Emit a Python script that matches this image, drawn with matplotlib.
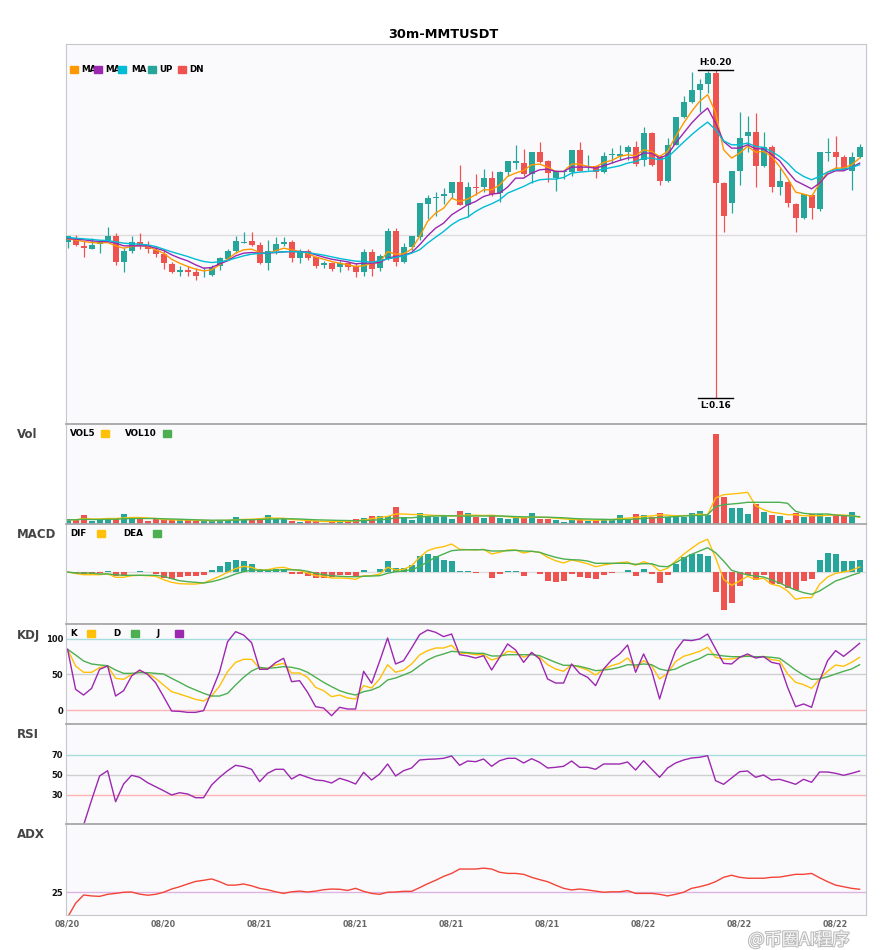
import matplotlib
matplotlib.use('Agg')
import matplotlib.pyplot as plt
import matplotlib.patheffects as pe
from matplotlib.patches import Rectangle
import numpy as np

# 30m candles
opens = [0.1791, 0.1796, 0.1786, 0.1783, 0.1789, 0.1793, 0.1798, 0.1767, 0.1780, 0.1791,
         0.1787, 0.1781, 0.1777, 0.1764, 0.1755, 0.1757, 0.1755, 0.1749, 0.1751, 0.1762,
         0.1770, 0.1780, 0.1790, 0.1793, 0.1788, 0.1766, 0.1780, 0.1789, 0.1791, 0.1771,
         0.1780, 0.1773, 0.1763, 0.1766, 0.1760, 0.1766, 0.1762, 0.1755, 0.1779, 0.1759,
         0.1771, 0.1805, 0.1767, 0.1785, 0.1797, 0.1838, 0.1845, 0.1847, 0.1851, 0.1865,
         0.1837, 0.1859, 0.1859, 0.1870, 0.1851, 0.1877, 0.1888, 0.1888, 0.1875, 0.1902,
         0.1891, 0.1870, 0.1877, 0.1877, 0.1904, 0.1883, 0.1885, 0.1877, 0.1898, 0.1897,
         0.1901, 0.1908, 0.1892, 0.1925, 0.1897, 0.1866, 0.1910, 0.1944, 0.1963, 0.1978,
         0.1985, 0.1998, 0.1864, 0.1839, 0.1878, 0.1921, 0.1926, 0.1884, 0.1908, 0.1859,
         0.1865, 0.1838, 0.1821, 0.1849, 0.1832, 0.1900, 0.1901, 0.1896, 0.1878, 0.1895]
highs = [0.1799, 0.1800, 0.1792, 0.1796, 0.1793, 0.1809, 0.1802, 0.1784, 0.1798, 0.1802,
         0.1792, 0.1786, 0.1782, 0.1767, 0.1762, 0.1762, 0.1759, 0.1761, 0.1763, 0.1773,
         0.1782, 0.1798, 0.1804, 0.1804, 0.1791, 0.1794, 0.1797, 0.1797, 0.1794, 0.1782,
         0.1782, 0.1774, 0.1768, 0.1767, 0.1768, 0.1767, 0.1765, 0.1782, 0.1782, 0.1776,
         0.1808, 0.1808, 0.1790, 0.1798, 0.1839, 0.1849, 0.1852, 0.1857, 0.1865, 0.1886,
         0.1865, 0.1874, 0.1881, 0.1878, 0.1878, 0.1890, 0.1910, 0.1905, 0.1901, 0.1914,
         0.1892, 0.1880, 0.1880, 0.1904, 0.1914, 0.1898, 0.1886, 0.1901, 0.1906, 0.1910,
         0.1910, 0.1915, 0.1932, 0.1926, 0.1898, 0.1919, 0.1945, 0.1970, 0.2000, 0.1991,
         0.2001, 0.2002, 0.1865, 0.1878, 0.1951, 0.1946, 0.1949, 0.1926, 0.1910, 0.1882,
         0.1866, 0.1839, 0.1850, 0.1850, 0.1901, 0.1919, 0.1921, 0.1898, 0.1902, 0.1911]
lows = [0.1784, 0.1786, 0.1773, 0.1782, 0.1778, 0.1793, 0.1763, 0.1755, 0.1778, 0.1782,
        0.1778, 0.1773, 0.1758, 0.1753, 0.1750, 0.1750, 0.1744, 0.1748, 0.1750, 0.1757,
        0.1769, 0.1778, 0.1790, 0.1786, 0.1764, 0.1757, 0.1776, 0.1786, 0.1767, 0.1765,
        0.1769, 0.1759, 0.1759, 0.1756, 0.1755, 0.1757, 0.1748, 0.1749, 0.1749, 0.1756,
        0.1769, 0.1762, 0.1766, 0.1781, 0.1794, 0.1819, 0.1823, 0.1838, 0.1845, 0.1836,
        0.1822, 0.1849, 0.1853, 0.1848, 0.1840, 0.1872, 0.1881, 0.1872, 0.1864, 0.1888,
        0.1865, 0.1854, 0.1868, 0.1872, 0.1878, 0.1879, 0.1870, 0.1876, 0.1888, 0.1892,
        0.1892, 0.1884, 0.1884, 0.1885, 0.1861, 0.1865, 0.1910, 0.1943, 0.1962, 0.1951,
        0.1974, 0.1600, 0.1803, 0.1827, 0.1861, 0.1902, 0.1859, 0.1883, 0.1852, 0.1849,
        0.1834, 0.1803, 0.1820, 0.1820, 0.1829, 0.1890, 0.1880, 0.1879, 0.1855, 0.1894]
closes = [0.1798, 0.1787, 0.1784, 0.1787, 0.1793, 0.1798, 0.1767, 0.1780, 0.1791, 0.1786,
          0.1782, 0.1776, 0.1766, 0.1755, 0.1757, 0.1755, 0.1750, 0.1750, 0.1759, 0.1771,
          0.1780, 0.1793, 0.1791, 0.1787, 0.1766, 0.1780, 0.1789, 0.1791, 0.1771, 0.1780,
          0.1771, 0.1762, 0.1766, 0.1758, 0.1766, 0.1761, 0.1754, 0.1779, 0.1758, 0.1774,
          0.1805, 0.1767, 0.1785, 0.1798, 0.1839, 0.1845, 0.1846, 0.1850, 0.1865, 0.1837,
          0.1859, 0.1857, 0.1870, 0.1850, 0.1877, 0.1890, 0.1890, 0.1874, 0.1901, 0.1889,
          0.1876, 0.1878, 0.1878, 0.1904, 0.1878, 0.1885, 0.1877, 0.1897, 0.1899, 0.1899,
          0.1908, 0.1887, 0.1925, 0.1886, 0.1866, 0.1910, 0.1944, 0.1963, 0.1977, 0.1985,
          0.1998, 0.1863, 0.1823, 0.1878, 0.1919, 0.1926, 0.1884, 0.1908, 0.1859, 0.1866,
          0.1839, 0.1821, 0.1850, 0.1833, 0.1901, 0.1901, 0.1896, 0.1880, 0.1896, 0.1908]

ma5 = [0.17947, 0.17939, 0.17918, 0.17906, 0.17898, 0.17906, 0.17865, 0.17836, 0.17857, 0.17869,
       0.17857, 0.17816, 0.17775, 0.17701, 0.17652, 0.17612, 0.17579, 0.17558, 0.17570, 0.17632,
       0.17701, 0.17775, 0.17816, 0.17824, 0.17783, 0.17775, 0.17804, 0.17836, 0.17816, 0.17795,
       0.17775, 0.17726, 0.17701, 0.17673, 0.17652, 0.17632, 0.17612, 0.17620, 0.17652, 0.17660,
       0.17795, 0.17763, 0.17767, 0.17824, 0.17980, 0.18164, 0.18266, 0.18327, 0.18450, 0.18409,
       0.18438, 0.18491, 0.18552, 0.18552, 0.18613, 0.18716, 0.18757, 0.18789, 0.18859, 0.18867,
       0.18830, 0.18777, 0.18777, 0.18867, 0.18867, 0.18838, 0.18830, 0.18887, 0.18912, 0.18961,
       0.18982, 0.18969, 0.19043, 0.19022, 0.18961, 0.19022, 0.19207, 0.19370, 0.19513, 0.19636,
       0.19718, 0.19500, 0.19043, 0.18941, 0.19002, 0.19084, 0.19014, 0.19022, 0.18961, 0.18838,
       0.18695, 0.18524, 0.18499, 0.18470, 0.18634, 0.18769, 0.18818, 0.18818, 0.18859, 0.18941]
ma10 = [0.17955, 0.17947, 0.17939, 0.17926, 0.17918, 0.17918, 0.17898, 0.17865, 0.17865, 0.17865,
        0.17865, 0.17836, 0.17808, 0.17755, 0.17714, 0.17681, 0.17632, 0.17591, 0.17599, 0.17644,
        0.17681, 0.17742, 0.17775, 0.17783, 0.17775, 0.17775, 0.17783, 0.17791, 0.17795, 0.17795,
        0.17787, 0.17755, 0.17726, 0.17701, 0.17685, 0.17669, 0.17644, 0.17652, 0.17652, 0.17660,
        0.17714, 0.17734, 0.17746, 0.17783, 0.17877, 0.17988, 0.18082, 0.18143, 0.18245, 0.18307,
        0.18368, 0.18409, 0.18470, 0.18499, 0.18511, 0.18585, 0.18695, 0.18695, 0.18757, 0.18797,
        0.18806, 0.18777, 0.18777, 0.18830, 0.18830, 0.18830, 0.18818, 0.18846, 0.18879, 0.18912,
        0.18941, 0.18953, 0.19002, 0.19002, 0.18941, 0.18982, 0.19125, 0.19247, 0.19370, 0.19472,
        0.19554, 0.19370, 0.19145, 0.19063, 0.19063, 0.19104, 0.19055, 0.19055, 0.18982, 0.18908,
        0.18777, 0.18663, 0.18614, 0.18564, 0.18634, 0.18744, 0.18785, 0.18785, 0.18826, 0.18879]
ma20 = [0.17967, 0.17959, 0.17951, 0.17943, 0.17934, 0.17930, 0.17914, 0.17898, 0.17890, 0.17885,
        0.17877, 0.17857, 0.17824, 0.17791, 0.17763, 0.17734, 0.17701, 0.17673, 0.17660, 0.17669,
        0.17685, 0.17714, 0.17742, 0.17763, 0.17771, 0.17779, 0.17787, 0.17791, 0.17795, 0.17791,
        0.17783, 0.17767, 0.17751, 0.17730, 0.17710, 0.17693, 0.17677, 0.17673, 0.17665, 0.17681,
        0.17705, 0.17722, 0.17742, 0.17775, 0.17816, 0.17898, 0.17971, 0.18041, 0.18123, 0.18184,
        0.18217, 0.18286, 0.18340, 0.18380, 0.18429, 0.18511, 0.18552, 0.18593, 0.18642, 0.18675,
        0.18683, 0.18683, 0.18703, 0.18757, 0.18769, 0.18777, 0.18785, 0.18806, 0.18826, 0.18846,
        0.18879, 0.18899, 0.18941, 0.18941, 0.18920, 0.18949, 0.19043, 0.19137, 0.19227, 0.19309,
        0.19382, 0.19288, 0.19153, 0.19104, 0.19104, 0.19125, 0.19084, 0.19072, 0.19022, 0.18961,
        0.18879, 0.18778, 0.18716, 0.18675, 0.18716, 0.18769, 0.18798, 0.18806, 0.18826, 0.18859]

# volume in thousands
volumes = [43, 40, 90, 30, 40, 60, 60, 100, 60, 50,
           30, 50, 40, 40, 40, 40, 30, 30, 30, 40,
           40, 70, 50, 40, 60, 90, 50, 50, 30, 20,
           30, 30, 13, 30, 20, 40, 50, 60, 80, 80,
           80, 170, 70, 40, 110, 80, 70, 80, 50, 130,
           110, 70, 60, 80, 60, 50, 60, 60, 110, 50,
           50, 40, 20, 40, 50, 35, 40, 50, 40, 90,
           50, 100, 90, 70, 110, 70, 70, 70, 110, 130,
           90, 900, 270, 160, 160, 100, 200, 120, 90, 80,
           40, 110, 70, 100, 100, 70, 90, 80, 120, 5]
vol5 = [43, 42, 55, 50, 50, 55, 55, 60, 65, 65,
        60, 55, 45, 42, 40, 40, 38, 35, 33, 35,
        36, 42, 46, 48, 52, 62, 58, 58, 45, 40,
        35, 30, 25, 25, 25, 27, 32, 40, 52, 66,
        75, 100, 100, 95, 95, 90, 85, 85, 80, 85,
        90, 88, 85, 88, 80, 72, 65, 62, 68, 68,
        65, 58, 52, 45, 42, 40, 37, 42, 42, 55,
        58, 66, 75, 80, 92, 88, 82, 84, 86, 98,
        93, 260, 293, 300, 307, 317, 183, 143, 117, 107,
        93, 93, 83, 83, 83, 87, 90, 90, 83, 67]
vol10 = [43, 42, 48, 45, 45, 47, 48, 52, 55, 55,
         55, 55, 52, 50, 48, 45, 42, 40, 38, 38,
         38, 40, 42, 43, 45, 48, 50, 52, 52, 50,
         46, 42, 40, 38, 36, 35, 32, 34, 38, 42,
         48, 60, 62, 62, 70, 75, 80, 82, 82, 80,
         78, 80, 80, 80, 80, 78, 74, 72, 70, 68,
         68, 65, 62, 56, 52, 50, 48, 47, 45, 45,
         45, 50, 55, 60, 65, 70, 75, 80, 85, 85,
         93, 173, 193, 200, 207, 217, 217, 217, 217, 217,
         207, 127, 107, 100, 100, 100, 90, 83, 80, 73]

# MACD in units of 1e-4
dif = [0, -1.5, -2.7, -2.7, -2.7, -1.7, -5.3, -5.3, -3.7, -3.3,
       -3.7, -4.3, -7.7, -10.3, -11.7, -12, -12, -11, -7.7, -4.3,
       -0.3, 3.3, 5.7, 4.7, 1.7, 2.3, 4, 4.7, 2.6, 1.3,
       -1, -3.7, -4.3, -6, -6, -6.3, -7.3, -3.7, -3.7, -2,
       4.7, 2, 2.7, 6.3, 14.7, 21.3, 24, 25.3, 28, 22.7,
       22.3, 22, 22.7, 18, 19.7, 22, 22, 19, 20.7, 19.7,
       14.7, 11.3, 9, 12, 10.3, 8.3, 5.3, 7, 8.3, 9.3,
       10, 6.7, 10.3, 7.7, 1, 3.7, 11, 17.7, 23.7, 29.3,
       32.7, 14.3, -7.3, -13.3, -9, -4.3, -7.3, -6.3, -12.3, -14,
       -19, -27.3, -25.7, -25.7, -12.3, -5, -1.3, 0, 1.7, 5]
dea = [0, -1, -1, -1, -2, -2, -2.7, -3.3, -3.3, -3.3,
       -3.3, -3.3, -4.3, -6.7, -8.7, -9.7, -10.3, -11, -9.7, -7.7,
       -5, -2, 0.3, 2, 1.7, 1.7, 1.7, 2.3, 2.2, 2,
       0.7, -1.3, -2.7, -3.7, -4.3, -4.7, -4.7, -4.3, -4, -3.7,
       -1.3, 0.3, 1, 2.3, 5.3, 10.3, 14.7, 18, 21.3, 22,
       22.3, 22.3, 22.3, 21, 21, 21.3, 21.7, 21, 20.7, 19.7,
       17, 14.7, 13, 12.3, 12, 11, 8.7, 8.7, 8.7, 8.7,
       8.7, 7.7, 8.3, 8.3, 5.7, 5.3, 9.3, 13.7, 17.7, 21,
       24.3, 19.3, 11, 1.7, -0.7, -3, -4, -5, -8, -11,
       -14.7, -18, -20.7, -22.3, -19, -14, -9, -6.3, -3.3, -0.7]
macd_hist = [0, -1.5, -2.7, -2.7, -1, 1.3, -3.7, -3.7, -0.3, 1.3,
             -0.3, -1.7, -6, -7, -5, -4.3, -4.3, -2.7, 1.7, 5.7,
             9.7, 12.3, 11.3, 8.3, 3.3, 3, 3, 3.3, -2, -2,
             -3.7, -6, -6, -4.7, -3, -3, -4, 2, 0.3, 3,
             11, 4, 4, 7, 16, 18, 16, 12, 11, 1,
             1, -0.7, 0, -6, -1.7, 1, 1, -4, 0, -1.7,
             -8.7, -9.7, -8.7, -1.7, -5, -6.3, -7.3, -3.3, -1.3, 0,
             2, -4.3, 2.7, -2, -11, -3.3, 7.7, 14.7, 17.7, 18.3,
             15.7, -20, -38, -31, -14, -3, -8.3, -3.3, -11.7, -11.7,
             -15.7, -18, -9, -7.3, 11.7, 18.7, 17.7, 10.7, 10.7, 11.7]

k_line = [85.4, 62.0, 53.1, 53.1, 59.6, 62.0, 44.6, 43.2, 50.2, 54.0,
          51.6, 44.6, 35.2, 25.8, 22.5, 18.8, 15.0, 12.7, 19.7, 33.8,
          54.0, 67.1, 71.4, 71.4, 58.7, 58.7, 63.4, 65.7, 52.1, 52.1,
          46.0, 31.9, 27.2, 18.8, 21.1, 16.9, 15.5, 34.3, 31.0, 43.7,
          63.8, 53.1, 56.3, 64.8, 77.5, 83.6, 87.3, 87.3, 91.1, 79.8,
          79.8, 77.9, 77.9, 70.4, 74.2, 82.6, 81.2, 74.2, 79.8, 74.2,
          63.8, 57.7, 54.5, 63.8, 60.1, 56.3, 49.3, 57.7, 62.4, 65.7,
          73.2, 60.1, 69.5, 62.4, 43.7, 51.6, 68.1, 75.6, 78.9, 82.6,
          88.3, 74.2, 71.8, 71.8, 74.2, 76.5, 74.2, 75.6, 70.9, 69.5,
          50.7, 39.0, 35.7, 30.5, 43.7, 54.5, 63.4, 61.5, 67.1, 74.2]
d_line = [85.4, 77.5, 69.0, 64.8, 63.4, 62.4, 56.3, 51.6, 51.6, 52.6,
          52.6, 51.6, 50.7, 44.6, 39.0, 32.9, 28.2, 23.5, 19.7, 19.7,
          23.5, 35.2, 46.0, 54.9, 60.1, 58.7, 59.6, 61.0, 60.1, 57.7,
          53.1, 46.0, 39.0, 32.9, 27.2, 23.5, 21.1, 25.8, 28.2, 32.9,
          42.3, 45.1, 49.3, 54.0, 62.4, 70.4, 75.6, 78.9, 82.6, 81.7,
          80.8, 79.8, 79.8, 76.1, 76.1, 77.9, 77.9, 77.9, 77.9, 76.5,
          71.8, 67.1, 62.9, 62.9, 61.5, 58.7, 55.4, 56.3, 57.7, 60.1,
          63.8, 63.4, 64.8, 63.8, 57.7, 55.4, 57.7, 63.4, 68.1, 72.3,
          78.4, 77.9, 76.1, 75.1, 75.1, 75.6, 75.1, 75.1, 74.2, 72.8,
          64.8, 56.3, 49.3, 43.2, 43.7, 46.9, 50.7, 54.5, 57.7, 63.8]
j_line = [85.4, 29.1, 21.1, 30.5, 57.3, 62.0, 19.7, 27.2, 47.9, 56.3,
          50.2, 38.5, 18.8, -1.4, -1.9, -3.3, -3.3, -0.9, 25.8, 54.0,
          96.2, 110.3, 105.6, 94.8, 57.3, 57.3, 66.7, 72.8, 39.9, 41.3,
          24.9, 4.7, 2.8, -8.0, 3.8, 1.4, 1.4, 54.5, 37.6, 68.5,
          101.4, 64.8, 69.5, 87.3, 106.1, 112.7, 109.4, 103.3, 107.0, 77.9,
          76.1, 73.2, 76.5, 56.3, 74.2, 93.0, 84.5, 67.1, 81.2, 71.8,
          43.7, 38.0, 38.0, 64.8, 51.6, 46.0, 34.3, 57.7, 70.4, 78.9,
          91.5, 53.1, 78.9, 55.4, 15.5, 53.1, 83.6, 98.6, 97.7, 100.0,
          107.0, 85.9, 65.7, 64.8, 74.2, 78.9, 73.2, 75.1, 67.1, 64.8,
          31.9, 4.7, 8.5, 3.8, 41.3, 69.5, 83.6, 75.6, 84.5, 93.9]

rsi = [0, 0, 0, 25, 49, 54.3, 23.3, 41, 49.7, 47.7,
       42.3, 38.3, 34.3, 30, 32.3, 31, 27.3, 27.3, 40, 47.7,
       54.3, 59.7, 58.3, 55.7, 43.3, 51.7, 55.7, 55.7, 46, 50.5,
       47.7, 45, 44.3, 42, 46.7, 44.3, 41, 52.7, 45, 51,
       61, 49, 54.3, 57, 65, 65.7, 66, 66.7, 69, 59.7,
       64, 63.3, 66, 58.7, 64.3, 66.7, 66.7, 62, 66.3, 62.7,
       57, 57.7, 58.7, 64, 57.7, 57.7, 55.7, 61, 61, 61,
       63, 55, 64.3, 56, 47.7, 57, 62, 65, 67, 67.7,
       69.3, 44.3, 40.7, 47, 53.3, 54, 47.7, 50, 45, 45.7,
       43.3, 40.7, 45.7, 42.7, 53, 53, 51.7, 49.7, 51.7, 54]

adx = [14.0, 20.1, 23.7, 23.3, 23.1, 24.0, 24.4, 24.9, 25.0, 24.1,
       23.6, 24.0, 24.9, 26.3, 27.3, 28.5, 29.6, 30.1, 30.7, 29.5,
       28.0, 28.0, 28.5, 27.7, 26.6, 26.0, 25.1, 24.4, 25.1, 25.4,
       25.0, 25.4, 26.0, 26.3, 26.2, 25.7, 26.6, 25.3, 24.4, 24.0,
       24.9, 25.0, 25.3, 25.3, 26.9, 28.6, 30.1, 31.8, 33.1, 35.0,
       35.0, 35.0, 35.4, 35.0, 33.6, 33.1, 33.1, 32.7, 31.4, 30.4,
       29.5, 28.0, 26.6, 25.9, 26.3, 25.9, 25.4, 24.9, 25.1, 25.1,
       25.6, 24.4, 24.4, 24.4, 24.0, 23.3, 24.0, 24.9, 26.6, 27.3,
       28.2, 29.5, 31.4, 32.3, 31.4, 31.0, 31.0, 31.0, 31.4, 31.5,
       32.1, 32.7, 32.7, 33.1, 31.2, 29.5, 28.0, 27.3, 26.6, 26.2]

tick_pos = [0, 12, 24, 36, 48, 60, 72, 84, 96]
tick_labels = ['08/20', '08/20', '08/21', '08/21', '08/21', '08/21', '08/22', '08/22', '08/22']

UP = '#26a69a'
DN = '#ef5350'
ORANGE = '#ff9800'
PURPLE = '#9c27b0'
CYAN = '#00bcd4'
AMBER = '#ffc107'
GREEN = '#4caf50'

plt.rcParams['font.family'] = ['DejaVu Sans']
plt.rcParams['font.weight'] = 'bold'

W, H = 885, 950
fig = plt.figure(figsize=(8.85, 9.5), dpi=100)


def fx(x):
    return x / W


def fy(y):
    return 1 - y / H


def panel(top, bottom, share=None):
    ax = fig.add_axes([fx(66), fy(bottom), 800 / W, (bottom - top) / H], sharex=share)
    ax.set_facecolor('#fafafd')
    for s in ax.spines.values():
        s.set_color('#c6c6ce')
        s.set_linewidth(0.8)
    ax.tick_params(axis='x', length=0, labelbottom=False)
    ax.tick_params(axis='y', length=0, pad=2, labelsize=6, colors='#111')
    return ax


ax_main = panel(44, 424)
ax_vol = panel(424, 524, ax_main)
ax_macd = panel(524, 624, ax_main)
ax_kdj = panel(624, 724, ax_main)
ax_rsi = panel(724, 824, ax_main)
ax_adx = panel(824, 915, ax_main)
for ax in [ax_vol, ax_macd, ax_kdj, ax_rsi, ax_adx]:
    ax.spines['top'].set_color('#a8a8a8')
    ax.spines['top'].set_linewidth(1.3)

x = np.arange(len(closes))
o = np.array(opens)
c = np.array(closes)
colors = np.where(c >= o, UP, DN)

# candles
ax_main.axhline(0.18, color='#dcdcdc', lw=1, zorder=0)
ax_main.vlines(x, lows, highs, colors=colors, lw=0.9, zorder=2)
ax_main.bar(x, np.maximum(np.abs(c - o), 0.00003), bottom=np.minimum(o, c),
            width=0.75, color=colors, zorder=3)
ax_main.plot(x, ma5, color=ORANGE, lw=1, zorder=4)
ax_main.plot(x, ma10, color=PURPLE, lw=1, zorder=4)
ax_main.plot(x, ma20, color=CYAN, lw=1, zorder=4)
ax_main.set_ylim(0.1568, 0.2034)
ax_main.set_yticks([])

hi_i = int(np.argmax(highs))
lo_i = int(np.argmin(lows))
ax_main.plot([hi_i - 2.2, hi_i + 2.2], [highs[hi_i]] * 2, color='black', lw=1)
ax_main.annotate('H:%.2f' % highs[hi_i], (hi_i, highs[hi_i]), xytext=(0, 2),
                 textcoords='offset points', ha='center', va='bottom', fontsize=6.3)
ax_main.plot([lo_i - 2.2, lo_i + 2.2], [lows[lo_i]] * 2, color='black', lw=1)
ax_main.annotate('L:%.2f' % lows[lo_i], (lo_i, lows[lo_i]), xytext=(0, -2.5),
                 textcoords='offset points', ha='center', va='top', fontsize=6.3)

# volume
ax_vol.bar(x, volumes, width=0.75, color=colors)
ax_vol.plot(x, vol5, color=AMBER, lw=1)
ax_vol.plot(x, vol10, color=GREEN, lw=1)
ax_vol.set_ylim(0, 1000)
ax_vol.set_yticks([])

# MACD
h = np.array(macd_hist)
ax_macd.axhline(0, color='#dddddd', lw=1, zorder=0)
ax_macd.bar(x, h, width=0.75, color=np.where(h >= 0, UP, DN))
ax_macd.plot(x, dif, color=AMBER, lw=1)
ax_macd.plot(x, dea, color=GREEN, lw=1)
ax_macd.set_ylim(-52, 48)
ax_macd.set_yticks([])

# KDJ
ax_kdj.axhline(100, color='#a6dcdc', lw=1, zorder=0)
ax_kdj.axhline(50, color='#cfcfcf', lw=1, zorder=0)
ax_kdj.axhline(0, color='#ffb4b4', lw=1, zorder=0)
ax_kdj.plot(x, k_line, color=AMBER, lw=1)
ax_kdj.plot(x, d_line, color=GREEN, lw=1)
ax_kdj.plot(x, j_line, color=PURPLE, lw=1)
ax_kdj.set_ylim(-19.7, 121.1)
ax_kdj.set_yticks([0, 50, 100])

# RSI
ax_rsi.axhline(70, color='#a6dcdc', lw=1, zorder=0)
ax_rsi.axhline(50, color='#cfcfcf', lw=1, zorder=0)
ax_rsi.axhline(30, color='#ffb4b4', lw=1, zorder=0)
ax_rsi.plot(x, rsi, color=PURPLE, lw=1)
ax_rsi.set_ylim(1, 101)
ax_rsi.set_yticks([30, 50, 70])

# ADX
ax_adx.axhline(25, color='#dcb4e2', lw=1, zorder=0)
ax_adx.plot(x, adx, color='#f44336', lw=1)
ax_adx.set_ylim(15, 54.6)
ax_adx.set_yticks([25])
ax_adx.set_xticks(tick_pos, tick_labels)
ax_adx.tick_params(axis='x', labelbottom=True, labelsize=5.8, colors='#666', pad=3)

ax_main.set_xlim(-0.2, 99.8)

# titles and legends
fig.text(0.501, fy(34), '30m-MMTUSDT', ha='center', va='center', fontsize=9.3)
for name, ypx in [('Vol', 435), ('MACD', 535), ('KDJ', 636), ('RSI', 735), ('ADX', 835)]:
    fig.text(fx(17), fy(ypx), name, ha='left', va='center', fontsize=8.5, color='#444')


def square(xpx, ypx, color):
    fig.patches.append(Rectangle((fx(xpx), fy(ypx + 3.8)), 7.6 / W, 7.6 / H,
                                 transform=fig.transFigure, color=color, zorder=6))


def label(xpx, ypx, text):
    fig.text(fx(xpx), fy(ypx), text, ha='left', va='center', fontsize=6.3, zorder=5)


for xs, xt, col, txt in [(70, 81, ORANGE, 'MA'), (94.3, 105, PURPLE, 'MA'),
                         (118, 131, CYAN, 'MA'), (148, 159, UP, 'UP'), (178, 189, DN, 'DN')]:
    square(xs, 69.5, col)
    label(xt, 69.5, txt)

label(70, 433.5, 'VOL5')
square(101, 433.5, AMBER)
label(125, 433.5, 'VOL10')
square(163, 433.5, GREEN)

label(70, 533.5, 'DIF')
square(97, 533.5, AMBER)
label(123, 533.5, 'DEA')
square(153, 533.5, GREEN)

label(70, 633.5, 'K')
square(87, 633.5, AMBER)
label(113, 633.5, 'D')
square(131, 633.5, GREEN)
label(157, 633.5, 'J')
square(175, 633.5, PURPLE)

# watermark, kept just below the date labels
fig.text(fx(748), fy(940), '@币圈AI程序', ha='left', va='center', fontsize=12.5,
         family=['Noto Sans CJK SC', 'DejaVu Sans'], fontweight='normal',
         color='white', alpha=0.9, zorder=10,
         path_effects=[pe.withStroke(linewidth=1.5, foreground='#b4b4b4')])

fig.savefig('out.png', dpi=100, facecolor='white')
